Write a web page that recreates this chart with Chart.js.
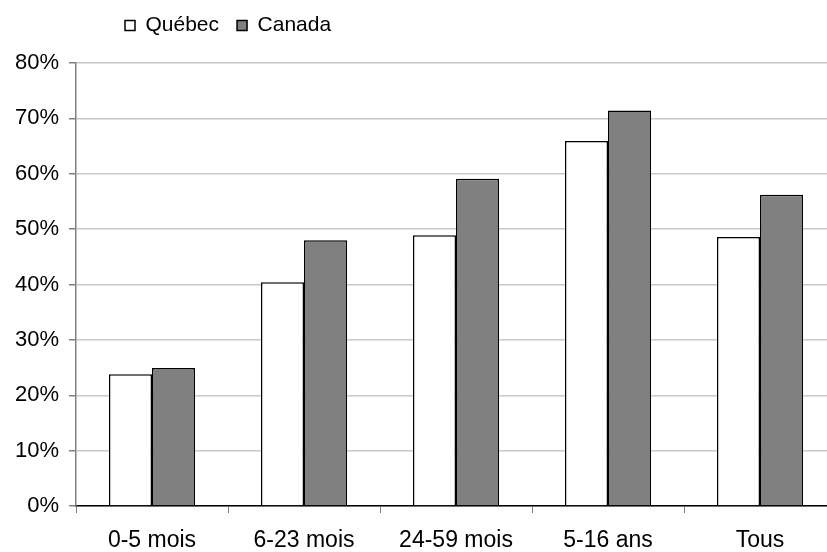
<!DOCTYPE html>
<html>
<head>
<meta charset="utf-8">
<script src="https://cdn.jsdelivr.net/npm/chart.js@4/dist/chart.umd.min.js"></script>
<style>
  html, body { margin: 0; padding: 0; background: #fff; overflow: hidden; }
  #wrap { width: 840px; height: 552px; }
</style>
</head>
<body>
<div id="wrap"><canvas id="myChart"></canvas></div>
<script>
const categories = ["0-5 mois", "6-23 mois", "24-59 mois", "5-16 ans", "Tous"];
const quebec = [23.8, 40.4, 48.9, 65.9, 48.6];
const canada = [24.9, 48.0, 59.1, 71.4, 56.2];
const yTicks = [0, 10, 20, 30, 40, 50, 60, 70, 80];

// legend sits to the right of the y axis labels in the original
const shiftLegend = {
  id: "shiftLegend",
  afterLayout(chart) {
    chart.legend.left += 107;
    chart.legend.top -= 17;
  }
};

const ctx = document.getElementById("myChart").getContext("2d");
new Chart(ctx, {
  type: "bar",
  data: {
    labels: categories,
    datasets: [
      {
        label: "Québec",
        data: quebec,
        backgroundColor: "#ffffff",
        borderColor: "#000000",
        borderWidth: 1.5,
        borderSkipped: "bottom"
      },
      {
        label: "Canada",
        data: canada,
        backgroundColor: "#808080",
        borderColor: "#000000",
        borderWidth: 1.5,
        borderSkipped: "bottom"
      }
    ]
  },
  options: {
    responsive: true,
    maintainAspectRatio: false,
    animation: false,
    layout: { padding: { top: 14, right: 4, bottom: 0, left: 0 } },
    datasets: { bar: { categoryPercentage: 0.566, barPercentage: 1 } },
    plugins: {
      tooltip: { enabled: false },
      legend: {
        position: "top",
        align: "start",
        labels: {
          color: "#000",
          font: { family: "Arial, 'Liberation Sans'", size: 21 },
          boxWidth: 10,
          boxHeight: 10,
          padding: 18,
          useBorderRadius: false
        }
      }
    },
    scales: {
      x: {
        offset: true,
        afterFit(scale) { scale.height = 46; },
        grid: {
          offset: true,
          drawOnChartArea: false,
          drawTicks: true,
          tickLength: 7,
          color: "#808080"
        },
        border: { color: "#000", width: 1.5 },
        ticks: {
          color: "#000",
          padding: 14,
          font: { family: "Arial, 'Liberation Sans'", size: 23 }
        }
      },
      y: {
        min: 0,
        max: 80,
        afterFit(scale) { scale.width = 76; },
        afterBuildTicks(scale) { scale.ticks = yTicks.map(v => ({ value: v })); },
        grid: {
          color: "#c8c8c8",
          lineWidth: 1.5,
          tickColor: "#808080",
          tickLength: 7
        },
        border: { color: "#808080", width: 1.5 },
        ticks: {
          color: "#000",
          padding: 10,
          font: { family: "Arial, 'Liberation Sans'", size: 22 },
          callback: v => v + "%"
        }
      }
    }
  },
  plugins: [shiftLegend]
});
</script>
</body>
</html>
